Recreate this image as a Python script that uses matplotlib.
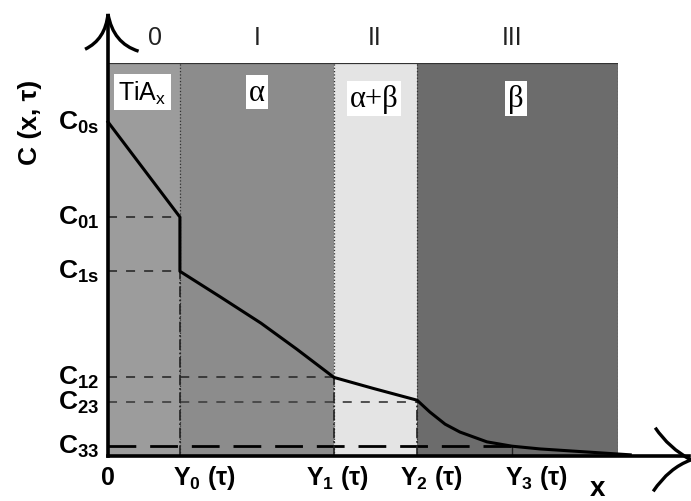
import numpy as np
import matplotlib.pyplot as plt
from matplotlib.patches import Rectangle
from matplotlib.path import Path
from matplotlib.patches import PathPatch

plt.rcParams["font.family"] = ["Liberation Sans", "DejaVu Sans"]
plt.rcParams["mathtext.fontset"] = "custom"
plt.rcParams["mathtext.rm"] = "Liberation Sans"
plt.rcParams["mathtext.bf"] = "Liberation Sans:bold"
plt.rcParams["mathtext.it"] = "Liberation Sans:italic"

# phase boundaries (x, normalised so the last box edge = 1)
bounds = [0.0, 0.141, 0.443, 0.606, 1.0]
y3 = 0.792
region_colors = ["#9c9c9c", "#8c8c8c", "#e4e4e4", "#6c6c6c"]
roman = ["0", "I", "II", "III"]
phase_names = ["TiA$_\\mathregular{x}$", "α", "α+β", "β"]

# concentration levels (normalised, box top = 1)
c_levels = {"C_{0s}": 0.850, "C_{01}": 0.608, "C_{1s}": 0.470,
            "C_{12}": 0.200, "C_{23}": 0.137, "C_{33}": 0.025}

# concentration profile C(x)
prof_x = [0.0, 0.141, 0.141, 0.22, 0.30, 0.37, 0.443, 0.52, 0.606,
          0.631, 0.661, 0.690, 0.743, 0.792, 0.847, 0.906, 0.965, 1.024]
prof_c = [0.850, 0.608, 0.470, 0.405, 0.338, 0.272, 0.200, 0.172, 0.142,
          0.112, 0.081, 0.061, 0.036, 0.025, 0.018, 0.013, 0.008, 0.003]

xtick_labels = ["0", "Y$_\\mathbf{0}$ (τ)", "Y$_\\mathbf{1}$ (τ)",
                "Y$_\\mathbf{2}$ (τ)", "Y$_\\mathbf{3}$ (τ)"]

fig = plt.figure(figsize=(6.91, 5.02), dpi=100)
ax = fig.add_axes([108 / 691, 45 / 502, 510 / 691, 393 / 502])
ax.set_xlim(0, 1)
ax.set_ylim(0, 1)
ax.axis("off")

# phase regions
for i, col in enumerate(region_colors):
    ax.add_patch(Rectangle((bounds[i], 0), bounds[i + 1] - bounds[i], 1,
                           facecolor=col, edgecolor="none", zorder=1))
for b in bounds[1:]:
    ax.plot([b, b], [0, 1], color="#333333", lw=0.9, ls=":", zorder=2)
ax.plot([0, 1], [1, 1], color="#333333", lw=1.6, zorder=2)

# roman numerals and phase labels
roman_x = [0.092, 0.292, 0.522, 0.792]
for xc, r in zip(roman_x, roman):
    ax.text(xc, 1.035, r, ha="center", va="bottom", fontsize=18,
            color="#222222", clip_on=False)
label_x = [0.067, 0.292, 0.522, 0.800]
label_y = [0.926, 0.926, 0.910, 0.910]
for i in range(4):
    if i == 0:
        ax.text(label_x[i], label_y[i], phase_names[i], ha="center", va="center",
                fontsize=18, zorder=5,
                bbox=dict(facecolor="white", edgecolor="none", pad=3))
    else:
        ax.text(label_x[i], label_y[i], phase_names[i], ha="center", va="center",
                fontsize=22, family=["Liberation Serif"], zorder=5,
                bbox=dict(facecolor="white", edgecolor="none", pad=2))

# guide lines
cl = c_levels
ax.plot([0, 0.141], [cl["C_{01}"]] * 2, color="#333333", lw=1.3, ls=(0, (5, 5)), zorder=3)
ax.plot([0, 0.141], [cl["C_{1s}"]] * 2, color="#333333", lw=1.3, ls=(0, (5, 5)), zorder=3)
ax.plot([0, 0.443], [cl["C_{12}"]] * 2, color="#333333", lw=1.3, ls=(0, (5, 5)), zorder=3)
ax.plot([0, 0.606], [cl["C_{23}"]] * 2, color="#444444", lw=1.3, ls=(0, (5, 5)), zorder=3)
ax.plot([0, y3], [cl["C_{33}"]] * 2, color="black", lw=2.0, ls=(0, (10, 5)), zorder=3)
ax.plot([0.141, 0.141], [0, cl["C_{1s}"]], color="#222222", lw=1.2, ls="-.", zorder=3)
ax.plot([0.443, 0.443], [0, cl["C_{12}"]], color="#222222", lw=1.2, ls="-.", zorder=3)
ax.plot([0.606, 0.606], [0, cl["C_{23}"]], color="#222222", lw=1.2, ls="-.", zorder=3)
ax.plot([y3, y3], [0, cl["C_{33}"]], color="#222222", lw=1.0, zorder=3)

# profile
ax.plot(prof_x, prof_c, color="black", lw=2.2, zorder=4, clip_on=False)

# axes with hand-drawn arrow heads
ax.plot([0, 0], [0, 1.12], color="black", lw=2.6, zorder=6, clip_on=False)
ax.plot([0, 1.14], [0, 0], color="black", lw=2.6, zorder=6, clip_on=False)
arrows = [
    [(0, 1.125), (-0.005, 1.06), (-0.045, 1.035)],
    [(0, 1.125), (0.01, 1.05), (0.06, 1.03)],
    [(1.143, -0.01), (1.10, 0.02), (1.073, 0.072)],
    [(1.143, -0.01), (1.10, -0.03), (1.069, -0.09)],
]
for pts in arrows:
    path = Path(pts, [Path.MOVETO, Path.CURVE3, Path.CURVE3])
    ax.add_patch(PathPatch(path, facecolor="none", edgecolor="black", lw=2.4,
                           clip_on=False, zorder=6))

# y tick labels
for name, val in c_levels.items():
    ax.text(-0.018, val, "$\\mathbf{%s}$" % name, ha="right", va="center",
            fontsize=19, clip_on=False)
ax.text(-0.153, 0.852, "C (x, τ)", rotation=90, ha="center", va="center",
        fontsize=19, fontweight="bold", clip_on=False)

# x tick labels
xlab_pos = [0.0, 0.190, 0.450, 0.635, 0.840]
for pos, lab in zip(xlab_pos, xtick_labels):
    ax.text(pos, -0.072, lab, ha="center", va="baseline", fontsize=18,
            fontweight="bold", clip_on=False)
ax.text(0.960, -0.100, "x", ha="center", va="baseline", fontsize=20,
        fontweight="bold", clip_on=False)

fig.savefig("out.png", dpi=100)
